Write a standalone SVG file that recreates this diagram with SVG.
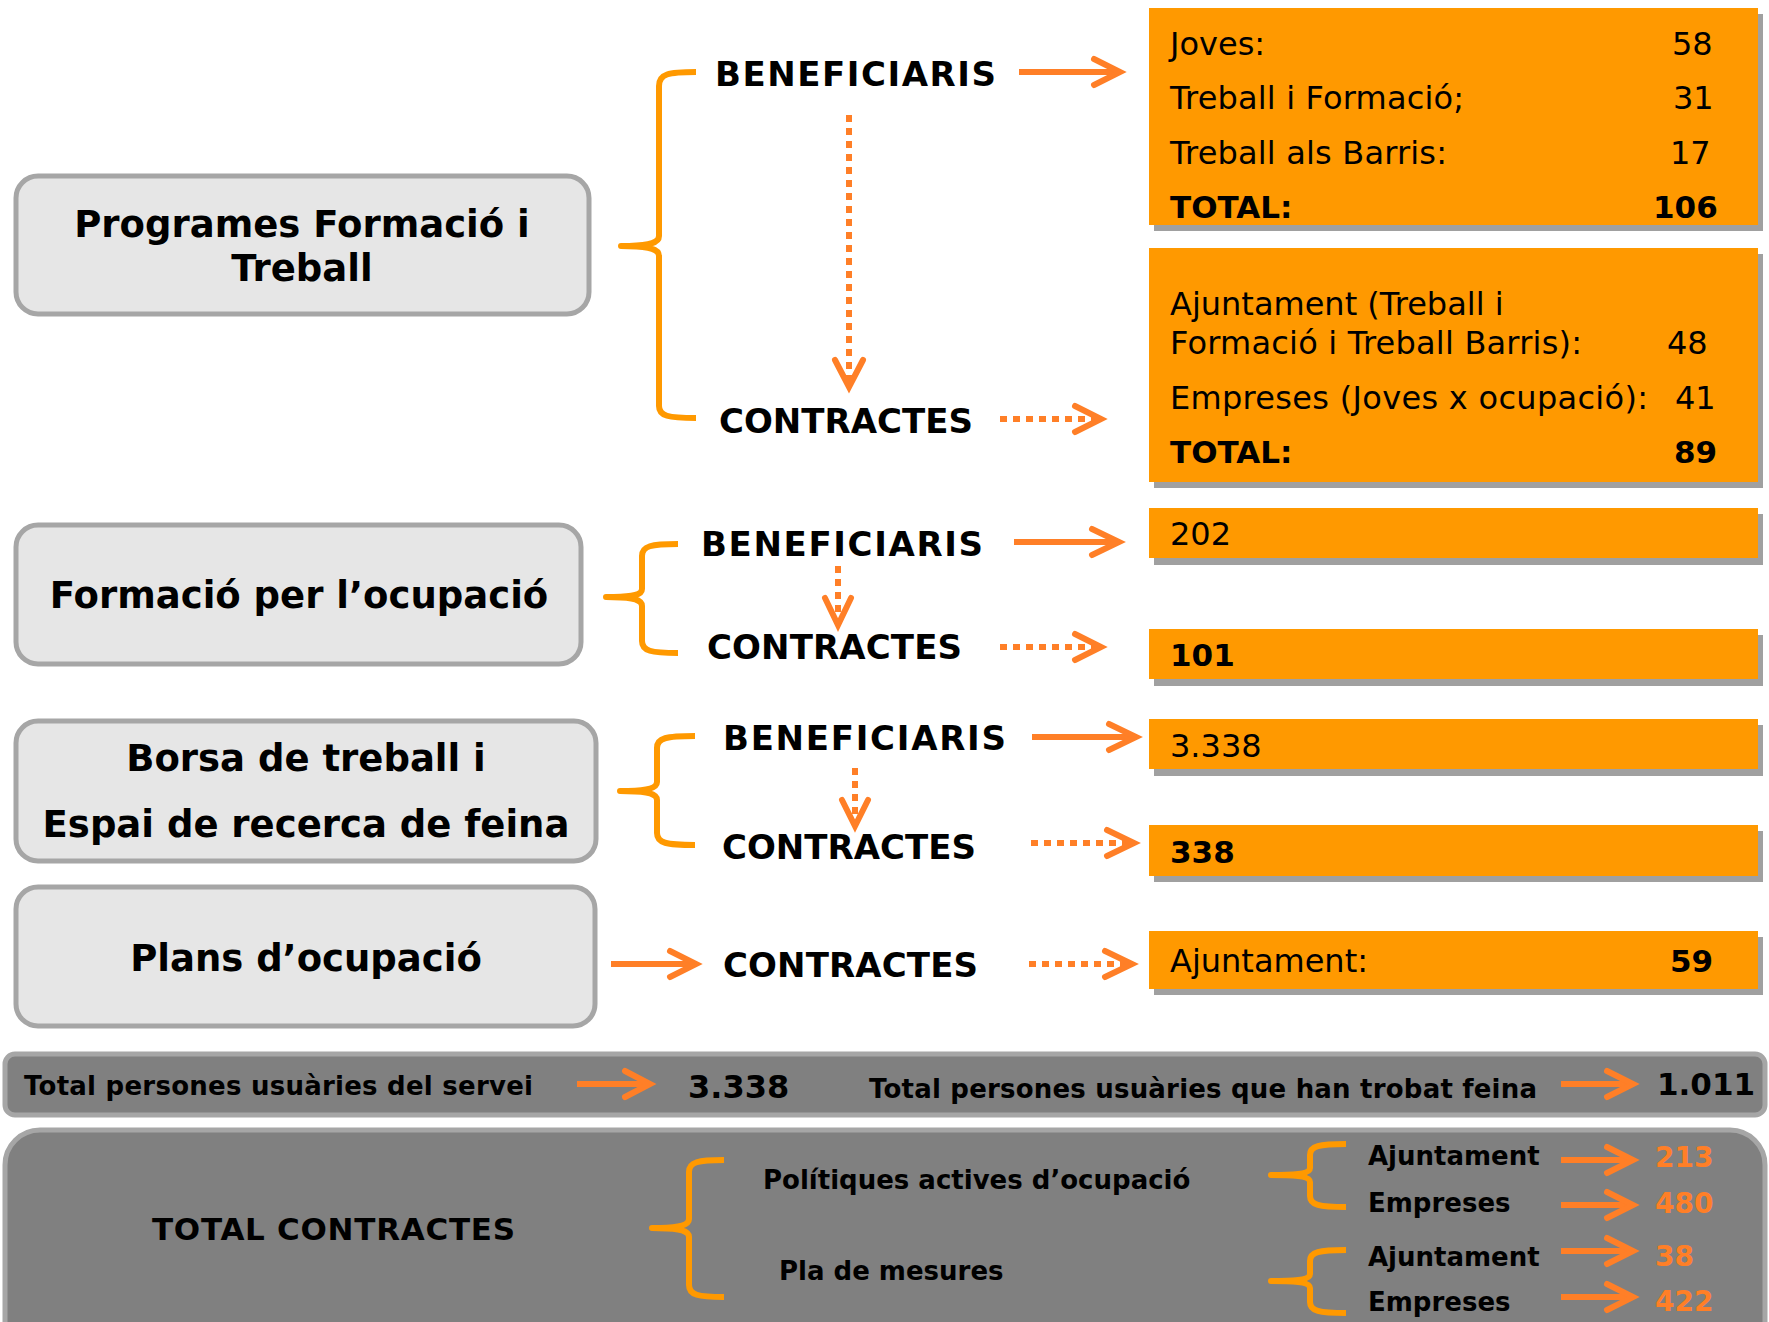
<svg xmlns="http://www.w3.org/2000/svg" width="1769" height="1322" viewBox="0 0 1769 1322">
<style>
.box{fill:#e6e6e6;stroke:#a6a6a6;stroke-width:5}
.ttl{font-family:"DejaVu Sans",Verdana,sans-serif;font-weight:bold;font-size:37px;fill:#000;text-anchor:middle}
.lbl{font-family:"DejaVu Sans",Verdana,sans-serif;font-weight:bold;font-size:34px;fill:#000}
.org{fill:#ff9900}
.shd{fill:#a0a0a0}
.t{font-family:"DejaVu Sans",Verdana,sans-serif;font-size:32px;fill:#000}
.tb{font-family:"DejaVu Sans",Verdana,sans-serif;font-size:31px;font-weight:bold;fill:#000}
.brace{fill:none;stroke:#ff9900;stroke-width:6;stroke-linecap:butt;stroke-linejoin:round}
.ln{fill:none;stroke:#ff7f27;stroke-width:6}
.dot{fill:none;stroke:#ff7f27;stroke-width:6;stroke-dasharray:7 6}
.hd{fill:none;stroke:#ff7f27;stroke-width:6;stroke-linecap:round;stroke-linejoin:miter}
.gray{fill:#808080;stroke:#a6a6a6;stroke-width:5}
.bt{font-family:"DejaVu Sans",Verdana,sans-serif;font-weight:bold;font-size:26px;fill:#000}
.bn{font-family:"DejaVu Sans",Verdana,sans-serif;font-weight:bold;font-size:28px;fill:#ff7f27}
</style>

<g id="node-programes">
<rect class="box" x="16" y="176" width="573" height="138" rx="22"/>
<text class="ttl" x="302" y="237">Programes Formació i</text>
<text class="ttl" x="302" y="281">Treball</text>
</g>
<g id="node-formacio">
<rect class="box" x="16" y="525" width="565" height="139" rx="22"/>
<text class="ttl" x="299" y="608">Formació per l’ocupació</text>
</g>
<g id="node-borsa">
<rect class="box" x="16" y="721" width="580" height="140" rx="22"/>
<text class="ttl" x="306" y="771">Borsa de treball i</text>
<text class="ttl" x="306" y="837">Espai de recerca de feina</text>
</g>
<g id="node-plans">
<rect class="box" x="16" y="887" width="579" height="139" rx="22"/>
<text class="ttl" x="306" y="971">Plans d’ocupació</text>
</g>

<g id="labels">
<text class="lbl" x="715" y="86" textLength="281" lengthAdjust="spacing">BENEFICIARIS</text>
<text class="lbl" x="719" y="433" textLength="254" lengthAdjust="spacing">CONTRACTES</text>
<text class="lbl" x="701" y="556" textLength="282" lengthAdjust="spacing">BENEFICIARIS</text>
<text class="lbl" x="707" y="659" textLength="255" lengthAdjust="spacing">CONTRACTES</text>
<text class="lbl" x="723" y="750" textLength="283" lengthAdjust="spacing">BENEFICIARIS</text>
<text class="lbl" x="722" y="859" textLength="254" lengthAdjust="spacing">CONTRACTES</text>
<text class="lbl" x="723" y="977" textLength="255" lengthAdjust="spacing">CONTRACTES</text>
</g>

<g id="node-box1">
<rect class="shd" x="1154" y="14" width="609" height="217"/>
<rect class="org" x="1149" y="8" width="609" height="217"/>
<text class="t" x="1170" y="55">Joves:</text><text class="t" x="1672" y="55">58</text>
<text class="t" x="1170" y="109" textLength="294" lengthAdjust="spacing">Treball i Formació;</text><text class="t" x="1673" y="109">31</text>
<text class="t" x="1170" y="164" textLength="277" lengthAdjust="spacing">Treball als Barris:</text><text class="t" x="1670" y="164">17</text>
<text class="tb" x="1170" y="218">TOTAL:</text><text class="tb" x="1653" y="218">106</text>
</g>
<g id="node-box2">
<rect class="shd" x="1154" y="254" width="609" height="234"/>
<rect class="org" x="1149" y="248" width="609" height="234"/>
<text class="t" x="1170" y="315">Ajuntament (Treball i</text>
<text class="t" x="1170" y="354" textLength="412" lengthAdjust="spacing">Formació i Treball Barris):</text><text class="t" x="1667" y="354">48</text>
<text class="t" x="1170" y="409" textLength="478" lengthAdjust="spacing">Empreses (Joves x ocupació):</text><text class="t" x="1675" y="409">41</text>
<text class="tb" x="1170" y="463">TOTAL:</text><text class="tb" x="1674" y="463">89</text>
</g>
<g id="node-box3">
<rect class="shd" x="1154" y="514" width="609" height="51"/>
<rect class="org" x="1149" y="508" width="609" height="50"/>
<text class="t" x="1170" y="545">202</text>
</g>
<g id="node-box4">
<rect class="shd" x="1154" y="635" width="609" height="51"/>
<rect class="org" x="1149" y="629" width="609" height="50"/>
<text class="tb" x="1170" y="666">101</text>
</g>
<g id="node-box5">
<rect class="shd" x="1154" y="725" width="609" height="51"/>
<rect class="org" x="1149" y="719" width="609" height="50"/>
<text class="t" x="1170" y="757">3.338</text>
</g>
<g id="node-box6">
<rect class="shd" x="1154" y="831" width="609" height="51"/>
<rect class="org" x="1149" y="825" width="609" height="51"/>
<text class="tb" x="1170" y="863">338</text>
</g>
<g id="node-box7">
<rect class="shd" x="1154" y="937" width="609" height="58"/>
<rect class="org" x="1149" y="931" width="609" height="58"/>
<text class="t" x="1170" y="972">Ajuntament:</text><text class="tb" x="1670" y="972">59</text>
</g>

<g id="node-totals">
<rect class="gray" x="5" y="1054" width="1760" height="61" rx="10"/>
<text class="bt" x="24" y="1095" textLength="509" lengthAdjust="spacing">Total persones usuàries del servei</text>
<text class="bt" x="688" y="1098" style="font-size:32px">3.338</text>
<text class="bt" x="869" y="1098" textLength="668" lengthAdjust="spacing">Total persones usuàries que han trobat feina</text>
<text class="bt" x="1657" y="1095" style="font-size:31px">1.011</text>
</g>
<g id="node-total-contractes">
<rect class="gray" x="5" y="1130" width="1760" height="260" rx="35"/>
<text class="bt" x="152" y="1240" style="font-size:31px" textLength="363" lengthAdjust="spacing">TOTAL CONTRACTES</text>
<text class="bt" x="763" y="1189">Polítiques actives d’ocupació</text>
<text class="bt" x="779" y="1280">Pla de mesures</text>
<text class="bt" x="1368" y="1165">Ajuntament</text>
<text class="bt" x="1368" y="1212">Empreses</text>
<text class="bt" x="1368" y="1266">Ajuntament</text>
<text class="bt" x="1368" y="1311">Empreses</text>
<text class="bn" x="1655" y="1167">213</text>
<text class="bn" x="1655" y="1213">480</text>
<text class="bn" x="1655" y="1266">38</text>
<text class="bn" x="1655" y="1311">422</text>
</g>

<g id="connectors">
<path class="brace" d="M696,72 C668,72 659,74 659,86 L659,236 C659,243 650,246 621,246 C650,246 659,249 659,256 L659,406 C659,416 668,418 696,418"/>
<path class="brace" d="M678,544 C651,544 642,546 642,556 L642,589 C642,595 634,597 606,597 C634,597 642,600 642,606 L642,641 C642,651 651,653 678,653"/>
<path class="brace" d="M695,736 C666,736 657,738 657,748 L657,782 C657,788 648,791 620,791 C648,791 657,794 657,800 L657,833 C657,843 666,845 695,845"/>
<path class="brace" d="M724,1160 C698,1160 689,1162 689,1172 L689,1219 C689,1225 680,1228 652,1228 C680,1228 689,1231 689,1237 L689,1285 C689,1295 698,1297 724,1297"/>
<path class="brace" d="M1346,1144 C1319,1144 1310,1146 1310,1155 L1310,1168 C1310,1173 1300,1175 1271,1175 C1300,1175 1310,1177 1310,1182 L1310,1196 C1310,1205 1319,1207 1346,1207"/>
<path class="brace" d="M1346,1250 C1319,1250 1310,1252 1310,1261 L1310,1274 C1310,1279 1300,1281 1271,1281 C1300,1281 1310,1283 1310,1288 L1310,1302 C1310,1311 1319,1313 1346,1313"/>

<path class="ln" d="M1019,72 H1116"/><path class="hd" d="M1094,59 L1120,72 L1094,85"/>
<path class="ln" d="M1014,542 H1115"/><path class="hd" d="M1092,529 L1119,542 L1092,555"/>
<path class="ln" d="M1032,737 H1132"/><path class="hd" d="M1109,724 L1136,737 L1109,750"/>
<path class="ln" d="M611,964 H692"/><path class="hd" d="M670,951 L696,964 L670,977"/>

<path class="dot" d="M849,115 V386"/><path class="hd" d="M835,360 L849,387 L863,360"/>
<path class="dot" d="M838,566 V623"/><path class="hd" d="M825,598 L838,625 L851,598"/>
<path class="dot" d="M855,768 V824"/><path class="hd" d="M842,800 L855,826 L868,800"/>

<path class="dot" d="M1000,419 H1098"/><path class="hd" d="M1075,406 L1101,419 L1075,432"/>
<path class="dot" d="M1000,647 H1098"/><path class="hd" d="M1075,634 L1101,647 L1075,660"/>
<path class="dot" d="M1031,843 H1132"/><path class="hd" d="M1107,830 L1134,843 L1107,856"/>
<path class="dot" d="M1029,964 H1130"/><path class="hd" d="M1105,951 L1132,964 L1105,977"/>

<path class="ln" d="M577,1084 H646"/><path class="hd" d="M625,1071 L650,1084 L625,1097"/>
<path class="ln" d="M1561,1084 H1629"/><path class="hd" d="M1607,1071 L1633,1084 L1607,1097"/>
<path class="ln" d="M1561,1160 H1629"/><path class="hd" d="M1607,1147 L1633,1160 L1607,1173"/>
<path class="ln" d="M1561,1205 H1629"/><path class="hd" d="M1607,1192 L1633,1205 L1607,1218"/>
<path class="ln" d="M1561,1251 H1629"/><path class="hd" d="M1607,1238 L1633,1251 L1607,1264"/>
<path class="ln" d="M1561,1297 H1629"/><path class="hd" d="M1607,1284 L1633,1297 L1607,1310"/>
</g>
</svg>
